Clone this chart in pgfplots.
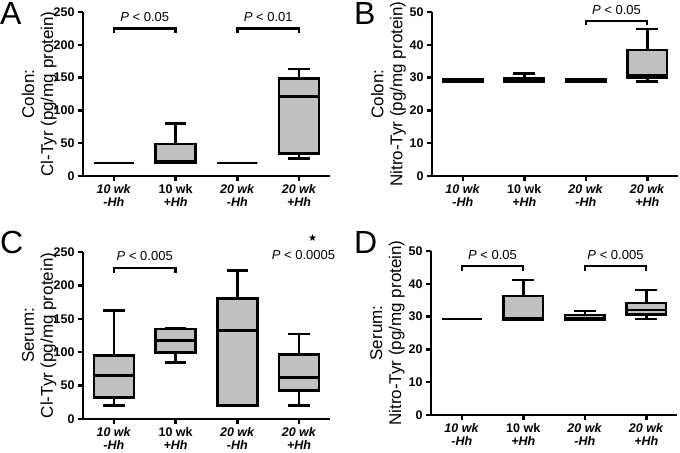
\documentclass[border=0pt]{standalone}
\usepackage{fontspec}
\setmainfont{Liberation Sans}
\newfontfamily\dejavu{DejaVu Sans}
\usepackage{pgfplots}
\pgfplotsset{compat=1.18}
\usepgfplotslibrary{statistics}
\definecolor{boxgray}{RGB}{192,192,192}
\newcommand\tickfont{\fontsize{12.5bp}{12.5bp}\selectfont\bfseries}
\newcommand\labelfont{\fontsize{17bp}{19bp}\selectfont}
\newcommand\pfont{\fontsize{13bp}{15bp}\selectfont}
\newcommand\letterfont{\fontsize{32bp}{36bp}\selectfont}
% draw position, lower whisker, lower quartile, median, upper quartile, upper whisker
\newcommand\bx[6]{\addplot[black, line width=2.5bp, fill=boxgray, boxplot prepared={draw position=#1, lower whisker=#2, lower quartile=#3, median=#4, upper quartile=#5, upper whisker=#6}] coordinates {};}
\newcommand\yticks[1]{\pgfplotsinvokeforeach{#1}{\draw[black, line width=2.5bp] (axis cs:-0.5,##1) -- ([xshift=-5bp]axis cs:-0.5,##1);}}
\pgfplotsset{
  panel/.style={
    scale only axis, width=247bp, height=164bp,
    xmin=-0.5, xmax=3.5,
    xtick align=outside, ytick align=outside,
    major tick length=5bp,
    every major tick/.style={draw=black, line width=2.5bp},
    axis line style={line width=2.5bp},
    clip=false,
    axis x line*=bottom, axis y line*=left,
    xtick={0,1,2,3},
    xticklabels={{\textit{10 wk}\\\textit{-Hh}},{10 wk\\\textit{+Hh}},{\textit{20 wk}\\\textit{-Hh}},{\textit{20 wk}\\\textit{+Hh}}},
    xticklabel style={align=center, font=\tickfont},
    yticklabel style={font=\tickfont},
    /pgf/number format/assume math mode=true,
    ylabel style={at={(axis description cs:-0.177,0.5)}, anchor=center, align=center, font=\labelfont},
    boxplot/draw direction=y,
    boxplot/box extend=0.65,
    boxplot/whisker extend=0.35,
  },
  bracket/.style={black, line width=2.3bp, sharp plot, mark=none},
}
\begin{document}
\begin{tikzpicture}
\useasboundingbox (0,0) rectangle (680bp,453bp);
% ---------------- A ----------------
\begin{axis}[panel, at={(83bp,277bp)}, anchor=south west,
  ymin=0, ymax=250, ytick={0,50,100,150,200,250},
  ylabel={Colon:\\Cl-Tyr (pg/mg protein)}]
\bx{0}{20}{20}{20}{20}{20}
\bx{1}{20}{20}{23}{49}{80}
\bx{2}{20}{20}{20}{20}{20}
\bx{3}{27}{34}{121}{149}{163}
\addplot[bracket] coordinates {(0,217.5) (0,225) (1,225) (1,217.5)};
\addplot[bracket] coordinates {(2,217.5) (2,225) (3,225) (3,217.5)};
\node[font=\pfont, anchor=base] at (axis cs:0.5,235) {\textit{P} < 0.05};
\node[font=\pfont, anchor=base] at (axis cs:2.5,235) {\textit{P} < 0.01};
\yticks{0,50,100,150,200,250}
\end{axis}
% ---------------- B ----------------
\begin{axis}[panel, at={(432bp,277bp)}, anchor=south west, width=246bp,
  ymin=0, ymax=50, ytick={0,10,20,30,40,50},
  ylabel={Colon:\\Nitro-Tyr (pg/mg protein)}]
\bx{0}{28.6}{28.6}{29.0}{29.5}{29.5}
\bx{1}{28.7}{28.7}{29.2}{29.9}{31.3}
\bx{2}{28.6}{28.6}{29.0}{29.5}{29.5}
\bx{3}{28.8}{30.1}{30.6}{38.4}{44.8}
\addplot[bracket] coordinates {(2,46.0) (2,47.3) (3,47.3) (3,46.0)};
\node[font=\pfont, anchor=base] at (axis cs:2.5,49.3) {\textit{P} < 0.05};
\yticks{0,10,20,30,40,50}
\end{axis}
% ---------------- C ----------------
\begin{axis}[panel, at={(83bp,34bp)}, anchor=south west, height=167bp,
  ymin=0, ymax=250, ytick={0,50,100,150,200,250},
  ylabel={Serum:\\Cl-Tyr (pg/mg protein)}]
\bx{0}{20.5}{32.4}{65.4}{94.8}{162.2}
\bx{1}{84.8}{99.8}{117.3}{134.7}{135.7}
\bx{2}{20.5}{20.5}{132.7}{180.6}{222.6}
\bx{3}{20.5}{42.4}{62.4}{96.3}{127.2}
\addplot[bracket] coordinates {(0,218.6) (0,226) (1,226) (1,218.6)};
\node[font=\pfont, anchor=base] at (axis cs:0.5,237.6) {\textit{P} < 0.005};
\node[font=\pfont, anchor=base] at (axis cs:3.07,239) {\textit{P} < 0.0005};
\node[font=\dejavu\fontsize{10bp}{12bp}\selectfont] at (axis cs:3.22,270.5) {★};
\yticks{0,50,100,150,200,250}
\end{axis}
% ---------------- D ----------------
\begin{axis}[panel, at={(431bp,38bp)}, anchor=south west, width=246bp,
  ymin=0, ymax=50, ytick={0,10,20,30,40,50},
  ylabel={Serum:\\Nitro-Tyr (pg/mg protein)}]
\bx{0}{29.2}{29.2}{29.2}{29.2}{29.2}
\bx{1}{29.0}{29.0}{29.4}{36.3}{41.2}
\bx{2}{29.0}{29.0}{29.5}{30.5}{31.7}
\bx{3}{29.2}{30.7}{32.0}{34.2}{38.1}
\addplot[bracket] coordinates {(0,44.0) (0,45.4) (1,45.4) (1,44.0)};
\addplot[bracket] coordinates {(2,44.0) (2,45.4) (3,45.4) (3,44.0)};
\node[font=\pfont, anchor=base] at (axis cs:0.5,47.5) {\textit{P} < 0.05};
\node[font=\pfont, anchor=base] at (axis cs:2.5,47.5) {\textit{P} < 0.005};
\yticks{0,10,20,30,40,50}
\end{axis}
% panel letters
\node[font=\letterfont, anchor=base west, inner sep=0pt] at (0bp,428bp) {A};
\node[font=\letterfont, anchor=base west, inner sep=0pt] at (354bp,428bp) {B};
\node[font=\letterfont, anchor=base west, inner sep=0pt] at (0bp,199bp) {C};
\node[font=\letterfont, anchor=base west, inner sep=0pt] at (354bp,199bp) {D};
\end{tikzpicture}
\end{document}
